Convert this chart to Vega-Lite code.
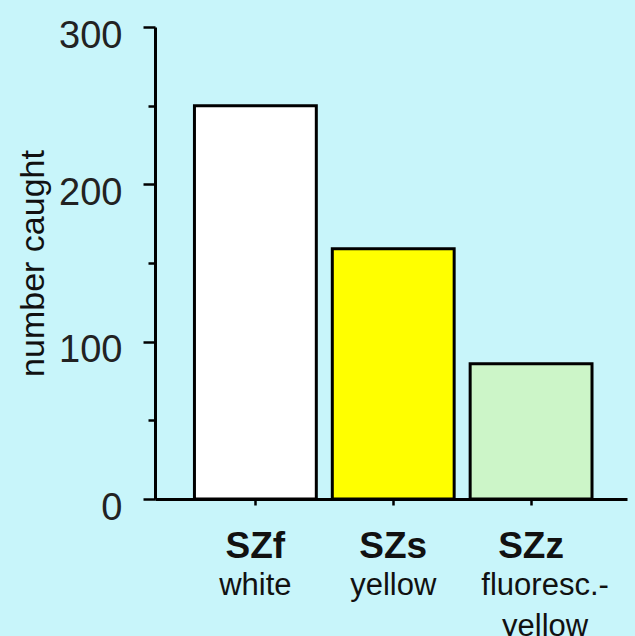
{
  "$schema": "https://vega.github.io/schema/vega-lite/v6.json",
  "width": 472,
  "height": 472,
  "autosize": {"type": "none"},
  "padding": {"left": 155, "top": 27, "right": 8, "bottom": 137},
  "background": "#c8f5fa",
  "config": {"view": {"stroke": null}, "font": "Liberation Sans"},
  "data": {
    "values": [
      {"code": "SZf", "name": "white", "count": 250},
      {"code": "SZs", "name": "yellow", "count": 159},
      {"code": "SZz", "name": "fluoresc.-yellow", "count": 86}
    ]
  },
  "layer": [
    {
      "mark": {"type": "bar", "stroke": "black", "strokeWidth": 3},
      "encoding": {
        "x": {
          "field": "code",
          "type": "nominal",
          "sort": null,
          "scale": {"paddingInner": 0.116, "paddingOuter": 0.27, "align": 0.53},
          "axis": {
            "title": null,
            "orient": "bottom",
            "labelAngle": 0,
            "labelFontSize": 37,
            "labelFontWeight": "bold",
            "labelColor": "#111111",
            "labelBaseline": "top",
            "labelPadding": 23,
            "labelOverlap": false,
            "tickSize": 6,
            "tickWidth": 2.5,
            "tickColor": "black",
            "domainColor": "black",
            "domainWidth": 3,
            "grid": false
          }
        },
        "y": {
          "field": "count",
          "type": "quantitative",
          "scale": {"domain": [0, 300], "nice": false},
          "axis": {
            "title": "number caught",
            "titleFontSize": 34,
            "titleFontWeight": "normal",
            "titleColor": "#111111",
            "titlePadding": 8,
            "orient": "left",
            "values": [0, 100, 200, 300],
            "labelFontSize": 38,
            "labelColor": "#222222",
            "labelPadding": 21,
            "labelOffset": 9,
            "tickSize": 12,
            "tickWidth": 2.5,
            "tickColor": "black",
            "domainColor": "black",
            "domainWidth": 3,
            "grid": false
          }
        },
        "fill": {
          "field": "code",
          "type": "nominal",
          "scale": {"domain": ["SZf", "SZs", "SZz"], "range": ["#ffffff", "#ffff00", "#ccf5c8"]},
          "legend": null
        }
      }
    },
    {
      "mark": {"type": "bar", "opacity": 0},
      "encoding": {
        "x": {
          "field": "code",
          "type": "nominal",
          "sort": null,
          "scale": {"paddingInner": 0.116, "paddingOuter": 0.27, "align": 0.53},
          "axis": {
            "title": null,
            "orient": "bottom",
            "labelAngle": 0,
            "labelFontSize": 31,
            "labelColor": "#111111",
            "labelBaseline": "top",
            "labelPadding": 71,
            "labelLineHeight": 41,
            "labelOverlap": false,
            "labelOffset": {"condition": {"test": "datum.value === 'SZz'", "value": 14}, "value": 0},
            "labelExpr": "datum.value === 'SZf' ? 'white' : datum.value === 'SZs' ? 'yellow' : ['fluoresc.-', 'yellow']",
            "ticks": false,
            "tickSize": 0,
            "domain": false,
            "grid": false
          }
        },
        "y": {
          "field": "count",
          "type": "quantitative",
          "scale": {"domain": [0, 300], "nice": false},
          "axis": {
            "title": null,
            "orient": "left",
            "values": [50, 150, 250],
            "labels": false,
            "domain": false,
            "tickSize": 7,
            "tickWidth": 2.5,
            "tickColor": "black",
            "grid": false
          }
        }
      }
    }
  ],
  "resolve": {"axis": {"x": "independent", "y": "independent"}}
}
